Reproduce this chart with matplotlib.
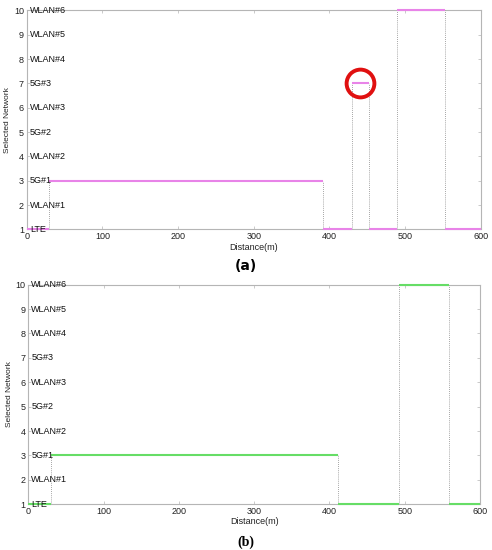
import matplotlib
matplotlib.use("Agg")
import matplotlib.pyplot as plt
import numpy as np

# network names on the y axis (1..10)
network_names = ["LTE", "WLAN#1", "5G#1", "WLAN#2", "5G#2",
                 "WLAN#3", "5G#3", "WLAN#4", "WLAN#5", "WLAN#6"]
network_ids = list(range(1, 11))

# (a) switch points and selected network
edges_a = [0, 30, 392, 430, 452, 490, 553, 600]
levels_a = [1, 3, 1, 7, 1, 10, 1]

# (b) switch points and selected network
edges_b = [0, 30, 412, 492, 559, 600]
levels_b = [1, 3, 1, 10, 1]

# highlighted point in (a)
circle_a = (440, 7)

xticks = [0, 100, 200, 300, 400, 500, 600]

plt.rcParams['font.family'] = ['Liberation Sans', 'DejaVu Sans']

fig = plt.figure(figsize=(4.92, 5.50), dpi=100)
ax_a = fig.add_axes([0.0543, 0.583, 0.9227, 0.398])
ax_b = fig.add_axes([0.0575, 0.0831, 0.9181, 0.3993])

frame_col = '#b5b5b5'


def draw_panel(ax, edges, levels, color):
    # horizontal pieces, drawn over the frame
    for i, lev in enumerate(levels):
        ax.hlines(lev, edges[i], edges[i + 1], color=color, lw=1.5,
                  zorder=3, clip_on=False)
    # dotted vertical jumps
    for i in range(1, len(levels)):
        lo, hi = sorted([levels[i - 1], levels[i]])
        ax.vlines(edges[i], lo, hi, color='#888888', lw=0.6,
                  linestyles=(0, (1, 1.5)), zorder=2)

    ax.set_xlim(0, 600)
    ax.set_ylim(1, 10)
    ax.set_xticks(xticks)
    ax.set_yticks(network_ids)
    ax.tick_params(direction='in', length=2.5, width=0.5, color=frame_col,
                   labelsize=6.5, pad=2, top=True, right=True, labelcolor='#222222')
    for s in ax.spines.values():
        s.set_color(frame_col)
        s.set_linewidth(0.8)
        s.set_zorder(1)
    ax.set_xlabel('Distance(m)', fontsize=6.5, labelpad=1, color='#222222')
    ax.set_ylabel('Selected Network', fontsize=6, labelpad=2, color='#222222')

    trans = matplotlib.transforms.blended_transform_factory(ax.transAxes, ax.transData)
    for nid, name in zip(network_ids, network_names):
        ax.text(0.007, nid, name, transform=trans, fontsize=6.5,
                va='center', ha='left', color='#111111', zorder=4)


draw_panel(ax_a, edges_a, levels_a, '#e884e8')
draw_panel(ax_b, edges_b, levels_b, '#66dd66')

ax_a.plot(circle_a[0], circle_a[1], marker='o', markersize=20,
          markerfacecolor='none', markeredgecolor='#e01010', mew=2.8,
          clip_on=False, zorder=5)

fig.text(0.5, 1 - 266 / 550, '(a)', ha='center', va='center',
         fontsize=10, fontweight='bold', family='DejaVu Sans')
fig.text(0.5, 1 - 542.5 / 550, '(b)', ha='center', va='center',
         fontsize=10, fontweight='bold', family='Liberation Serif')

fig.savefig('out.png', dpi=100)
